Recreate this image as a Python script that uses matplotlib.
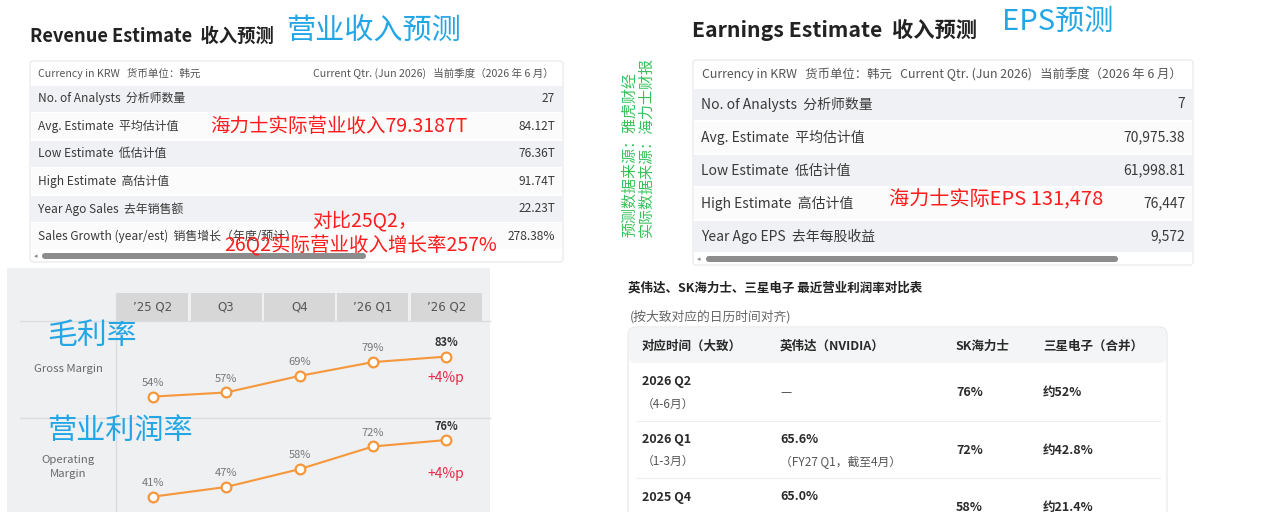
import matplotlib
matplotlib.use("Agg")
import matplotlib.pyplot as plt
from matplotlib.patches import FancyBboxPatch, Rectangle

plt.rcParams['font.family'] = ['Noto Sans CJK SC', 'DejaVu Sans']

# ---------------- data ----------------
rev_title = "Revenue Estimate  收入预测"
rev_note = "营业收入预测"
rev_header_left = "Currency in KRW   货币单位：韩元"
rev_header_right = "Current Qtr. (Jun 2026)   当前季度（2026 年 6 月）"
rev_labels = ["No. of Analysts  分析师数量", "Avg. Estimate  平均估计值", "Low Estimate  低估计值",
              "High Estimate  高估计值", "Year Ago Sales  去年销售额",
              "Sales Growth (year/est)  销售增长（年度/预计）"]
rev_values = ["27", "84.12T", "76.36T", "91.74T", "22.23T", "278.38%"]
rev_actual = "海力士实际营业收入79.3187T"
rev_growth = ["对比25Q2，", "26Q2实际营业收入增长率257%"]

eps_title = "Earnings Estimate  收入预测"
eps_note = "EPS预测"
eps_header = "Currency in KRW   货币单位：韩元   Current Qtr. (Jun 2026)   当前季度（2026 年 6 月）"
eps_labels = ["No. of Analysts  分析师数量", "Avg. Estimate  平均估计值", "Low Estimate  低估计值",
              "High Estimate  高估计值", "Year Ago EPS  去年每股收益"]
eps_values = ["7", "70,975.38", "61,998.81", "76,447", "9,572"]
eps_actual = "海力士实际EPS 131,478"
sources = ["预测数据来源：雅虎财经", "实际数据来源：海力士财报"]

quarters = ["’25 Q2", "Q3", "Q4", "’26 Q1", "’26 Q2"]
gross_margin = [54, 57, 69, 79, 83]
operating_margin = [41, 47, 58, 72, 76]

cmp_title = "英伟达、SK海力士、三星电子 最近营业利润率对比表"
cmp_subtitle = "(按大致对应的日历时间对齐)"
cmp_cols = ["对应时间（大致）", "英伟达（NVIDIA）", "SK海力士", "三星电子（合并）"]
cmp_period = ["2026 Q2", "2026 Q1", "2025 Q4"]
cmp_period_sub = ["（4-6月）", "（1-3月）", ""]
cmp_nvidia = ["—", "65.6%", "65.0%"]
cmp_nvidia_sub = ["", "（FY27 Q1，截至4月）", ""]
cmp_skhynix = ["76%", "72%", "58%"]
cmp_samsung = ["约52%", "约42.8%", "约21.4%"]

# ---------------- figure ----------------
W, H = 1280, 512
fig = plt.figure(figsize=(12.8, 5.12), dpi=100)
ax = fig.add_axes([0, 0, 1, 1], zorder=0)
ax.set_xlim(0, W)
ax.set_ylim(H, 0)
ax.axis('off')

BLUE = '#22a6e6'
RED = '#ff1c1c'
GREEN = '#35c25a'


def T(x, y, s, size, color='#333333', weight='normal', ha='left', va='center', **kw):
    ax.text(x, y, s, fontsize=size, color=color, fontweight=weight, ha=ha, va=va, **kw)


def box(x0, y0, w, h, fc, ec='none', lw=0, r=0.0, z=1):
    if r > 0:
        p = FancyBboxPatch((x0, y0), w, h, boxstyle=f"round,pad=0,rounding_size={r}",
                           fc=fc, ec=ec, lw=lw, zorder=z)
    else:
        p = Rectangle((x0, y0), w, h, fc=fc, ec=ec, lw=lw, zorder=z)
    ax.add_patch(p)


def estimate_table(x0, x1, top, head_h, row_h, header_items, labels, values, lab_size, head_size):
    n = len(labels)
    bottom = top + head_h + n * row_h + 12
    box(x0, top, x1 - x0, bottom - top, 'white', '#e4e6ea', 0.8, r=3)
    for xh, s in header_items:
        T(xh, top + head_h / 2, s, head_size, '#555555')
    for i, (lab, val) in enumerate(zip(labels, values)):
        yt = top + head_h + i * row_h
        fc = '#eff1f4' if i % 2 == 0 else '#fbfbfc'
        box(x0 + 1, yt + 0.8, x1 - x0 - 2, row_h - 1.6, fc, z=2)
        T(x0 + 8, yt + row_h / 2, lab, lab_size, '#3a3a3a', zorder=3)
        T(x1 - 8, yt + row_h / 2, val, lab_size, '#3a3a3a', ha='right', zorder=3)
    ysb = top + head_h + n * row_h + 6
    T(x0 + 4, ysb, '◂', 5, '#888888', family=['DejaVu Sans'])
    return ysb


# ---- top-left: revenue estimate ----
T(30, 36, rev_title, 13.2, '#222222', 'bold')
T(286, 31, rev_note, 21, BLUE)
ysb = estimate_table(30, 563, 61, 24, 27.5, [(38, rev_header_left), (313, rev_header_right)],
                     rev_labels, rev_values, 8.6, 7.6)
box(42, ysb - 3, 324, 6, '#8c8c8c', r=3, z=3)
T(210, 126.5, rev_actual, 14, RED, zorder=4)
T(312, 221, rev_growth[0], 14, RED, zorder=4)
T(224, 246, rev_growth[1], 14, RED, zorder=4)

# ---- top-right: EPS estimate ----
T(692, 30, eps_title, 15.3, '#222222', 'bold')
T(1002, 22, eps_note, 21, BLUE)
ysb2 = estimate_table(693, 1193, 60, 28, 33, [(702, eps_header)],
                      eps_labels, eps_values, 10, 8.9)
box(706, ysb2 - 3, 412, 6, '#8c8c8c', r=3, z=3)
T(889, 200, eps_actual, 14.5, RED, zorder=4)
for xs, s in zip([630, 647], sources):
    T(xs, 237, s, 10.8, GREEN, ha='center', va='bottom', rotation=90)

# ---- bottom-left: margin chart panel ----
box(7, 268, 483, 250, '#eef0f2', z=0.5)
ax.plot([20, 490], [321, 321], color='#dadcdf', lw=1, zorder=1)
ax.plot([20, 490], [418, 418], color='#dadcdf', lw=1, zorder=1)
ax.plot([116, 116], [293, 512], color='#dadcdf', lw=1, zorder=1)
T(68, 369, "Gross Margin", 8.2, '#6a6a6a', ha='center')
T(68, 467, "Operating\nMargin", 8.2, '#6a6a6a', ha='center', linespacing=1.5)
T(47, 336, "毛利率", 21.5, BLUE, zorder=5)
T(47, 431, "营业利润率", 21, BLUE, zorder=5)

xl = (116 / W, 367 / W)
x = list(range(len(quarters)))

axh = fig.add_axes([xl[0], 1 - 321 / H, xl[1], 28 / H], zorder=2)
axh.bar(x, [1] * len(x), width=0.97, color='#d7d7d7')
for xi, q in zip(x, quarters):
    axh.text(xi, 0.5, q, ha='center', va='center', fontsize=8.5, color='#555555',
             family=['DejaVu Sans'])
axh.set_xlim(-0.5, 4.5)
axh.set_ylim(0, 1)
axh.axis('off')

ORANGE = '#f5973a'


def margin_axes(bottom_px, height_px, vals, ylim, delta_off):
    a = fig.add_axes([xl[0], 1 - bottom_px / H, xl[1], height_px / H], zorder=3)
    a.patch.set_alpha(0)
    a.plot(x, vals, color=ORANGE, lw=1.5, marker='o', ms=7, mfc='white', mec=ORANGE, mew=1.6,
           solid_capstyle='round')
    for i, v in enumerate(vals):
        last = i == len(vals) - 1
        a.annotate(f"{v}%", (i, v), xytext=(0, 10), textcoords='offset points', ha='center',
                   va='center', fontsize=8, color='#333333' if last else '#777777',
                   fontweight='bold' if last else 'normal')
    a.annotate(f"+{vals[-1] - vals[-2]}%p", (x[-1], vals[-1]), xytext=(0, delta_off),
               textcoords='offset points', ha='center', va='center', fontsize=10, color='#e8294b')
    a.set_xlim(-0.5, 4.5)
    a.set_ylim(*ylim)
    a.axis('off')
    return a


margin_axes(418, 97, gross_margin, (38.5, 108.8), -15.5)
margin_axes(512, 94, operating_margin, (31.55, 89.6), -24.5)

# ---- bottom-right: comparison table ----
T(628, 288, cmp_title, 9, '#222222', 'bold')
T(630, 317, cmp_subtitle, 9.2, '#666666')
box(628, 327, 539, 200, 'white', '#e6e7e9', 0.8, r=8)
box(629, 328, 537, 35, '#f4f5f6', r=7, z=1.5)
col_x = [642, 780, 956, 1043]
for cx, c in zip(col_x, cmp_cols):
    T(cx, 346, c, 9, '#2a2a2a', 'bold', zorder=3)
row_top = [363, 420.5, 478]
row_h = 57.5
for i in range(len(cmp_period)):
    yt = row_top[i]
    yc = yt + row_h / 2
    if i > 0:
        ax.plot([636, 1160], [yt, yt], color='#eeeeee', lw=0.8, zorder=2)
    T(col_x[0], yt + 19, cmp_period[i], 9, '#2a2a2a', 'bold', zorder=3)
    if cmp_period_sub[i]:
        T(col_x[0], yt + 41, cmp_period_sub[i], 8.5, '#555555', zorder=3)
    if cmp_nvidia[i] == "—":
        T(col_x[1], yc + 1, cmp_nvidia[i], 9, '#555555', zorder=3)
    else:
        T(col_x[1], yt + 19, cmp_nvidia[i], 9, '#2a2a2a', 'bold', zorder=3)
    if cmp_nvidia_sub[i]:
        T(col_x[1], yt + 42, cmp_nvidia_sub[i], 8.5, '#555555', zorder=3)
    T(col_x[2], yc + 1, cmp_skhynix[i], 9, '#2a2a2a', 'bold', zorder=3)
    T(col_x[3], yc + 1, cmp_samsung[i], 9, '#2a2a2a', 'bold', zorder=3)

fig.savefig("out.png", dpi=100)
